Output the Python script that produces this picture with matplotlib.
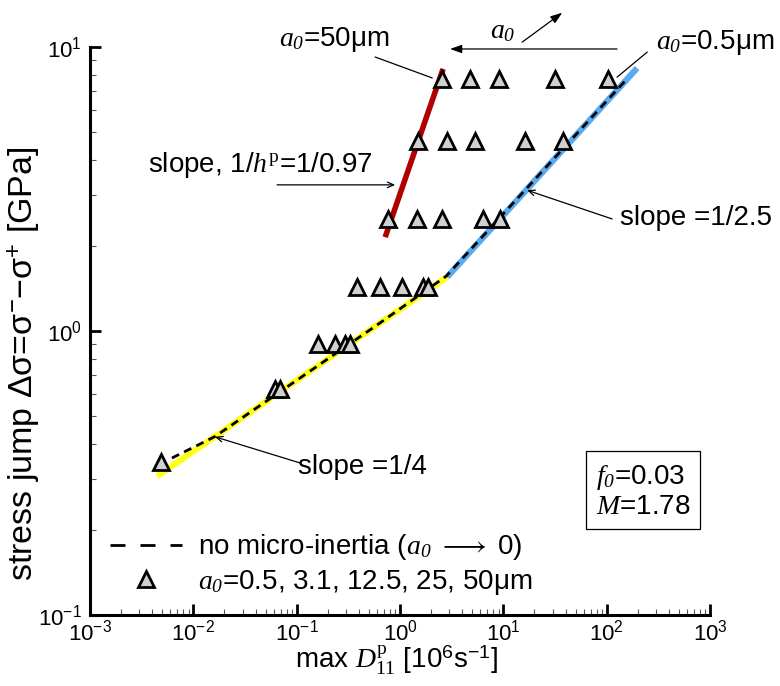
import matplotlib
matplotlib.use('Agg')
import matplotlib.pyplot as plt
from matplotlib.lines import Line2D

plt.rcParams['font.family'] = 'Liberation Sans'
plt.rcParams['mathtext.fontset'] = 'custom'
plt.rcParams['mathtext.rm'] = 'Liberation Sans'
plt.rcParams['mathtext.it'] = 'Liberation Serif:italic'
plt.rcParams['mathtext.sf'] = 'Liberation Serif:italic'
plt.rcParams['mathtext.cal'] = 'Liberation Serif'
plt.rcParams['axes.unicode_minus'] = False

# simulated stress jumps (a0 = 0.5 ... 50 um), one row per loading level
row_stress = [7.71, 4.67, 2.48, 1.43, 0.90, 0.625, 0.346]
row_rates = [
    [2.56, 4.78, 9.10, 31.7, 104],
    [1.50, 2.86, 5.33, 16.3, 37.9],
    [0.767, 1.47, 2.56, 6.37, 9.3],
    [0.385, 0.641, 1.05, 1.68, 1.87],
    [0.161, 0.236, 0.295, 0.329],
    [0.0618, 0.069],
    [0.00486],
]

# no micro-inertia curve
ref_rate = [0.0062, 0.0162, 0.6, 2.8, 151]
ref_stress = [0.357, 0.425, 1.05, 1.56, 7.6]

# fitted slopes
fit_low_rate = [0.00446, 2.86]
fit_low_stress = [0.308, 1.55]
fit_high_rate = [2.86, 197]
fit_high_stress = [1.55, 8.43]
fit_hp_rate = [0.718, 2.61]
fit_hp_stress = [2.14, 8.37]

fig = plt.figure(figsize=(7.8, 6.86), dpi=100)
ax = fig.add_axes([0.1154, 0.1035, 0.7949, 0.828])

ax.plot(fit_low_rate, fit_low_stress, color='#ffff1a', lw=4.5, solid_capstyle='butt', zorder=2)
ax.plot(fit_high_rate, fit_high_stress, color='#5aaaf0', lw=4.5, solid_capstyle='butt', zorder=2)
ax.plot(fit_hp_rate, fit_hp_stress, color='#b00000', lw=4, solid_capstyle='butt', zorder=2)
ax.plot(ref_rate, ref_stress, color='k', lw=2, dashes=(2.9, 2.0), zorder=3)

for s, rates in zip(row_stress, row_rates):
    ax.plot(rates, [s] * len(rates), ls='none', marker='^', ms=12, mfc='#d0d0d0',
            mec='k', mew=2, zorder=4)

ax.set_xscale('log')
ax.set_yscale('log')
ax.set_xlim(1e-3, 1e3)
ax.set_ylim(1e-1, 1e1)

for side in ['top', 'right']:
    ax.spines[side].set_visible(False)
for side in ['left', 'bottom']:
    ax.spines[side].set_linewidth(2.2)

ax.tick_params(which='major', direction='in', length=8, width=2, labelsize=16)
ax.tick_params(axis='x', which='major', pad=3)
ax.tick_params(axis='y', which='major', pad=6)
ax.tick_params(which='minor', direction='in', length=4.5, width=0.8, color='0.35')

ax.set_xlabel(r'max $\mathit{D}_{\mathcal{11}}^{\mathcal{p}}$ [10$^{6}$s$^{-1}$]', fontsize=20)
ax.set_ylabel(r'stress jump $\mathrm{\Delta\sigma}$=$\mathrm{\sigma}^{-}$' + '\u2212'
              + r'$\mathrm{\sigma}^{+}$ [GPa]', fontsize=24.5)
ax.xaxis.set_label_coords(0.495, -0.05)
ax.yaxis.set_label_coords(-0.077, 0.442)

a0 = r'$\mathit{a}_{\mathsf{0}}$'
arrow_open = dict(arrowstyle='->,head_length=0.45,head_width=0.2', lw=0.9, color='k',
                  shrinkA=0, shrinkB=0)
arrow_plain = dict(arrowstyle='-', lw=0.9, color='k', shrinkA=0, shrinkB=0)
arrow_fill = dict(arrowstyle='-|>,head_length=0.7,head_width=0.25', lw=0.9, color='k',
                  shrinkA=0, shrinkB=0)

ax.annotate('', xy=(2.05, 7.78), xytext=(0.574, 9.22), arrowprops=arrow_plain)
ax.text(0.23, 10.6, a0 + '=50μm', fontsize=20, ha='center', va='center', clip_on=False)
ax.annotate('', xy=(126, 7.83), xytext=(247, 9.6), arrowprops=arrow_plain)
ax.text(1122, 10.4, a0 + '=0.5μm', fontsize=20, ha='center', va='center', clip_on=False)
ax.annotate('', xy=(3.05, 9.84), xytext=(126, 9.84), arrowprops=arrow_fill)
ax.annotate('', xy=(37.1, 13.2), xytext=(15.2, 10.4), arrowprops=arrow_fill,
            annotation_clip=False)
ax.text(9.96, 11.4, a0, fontsize=20, ha='center', va='center', clip_on=False)

ax.annotate('', xy=(0.897, 3.27), xytext=(0.0646, 3.27), arrowprops=arrow_open)
ax.text(0.0443, 3.85, r'slope, 1/$\mathit{h}^{\mathcal{p}}$=1/0.97', fontsize=20,
        ha='center', va='center')
ax.annotate('', xy=(17.0, 3.13), xytext=(113, 2.48), arrowprops=arrow_open)
ax.text(135, 2.49, 'slope =1/2.5', fontsize=20, ha='left', va='center', clip_on=False)
ax.annotate('', xy=(0.0162, 0.424), xytext=(0.108, 0.343), arrowprops=arrow_open)
ax.text(0.103, 0.332, 'slope =1/4', fontsize=20, ha='left', va='center')

ax.text(225, 0.273, r'$\mathit{f}_{\mathsf{0}}$=0.03' + '\n' + r'$\mathit{M}$=1.78', fontsize=20,
        ha='center', va='center', multialignment='left', linespacing=1.1,
        bbox=dict(boxstyle='square,pad=0.35', fc='white', ec='k', lw=0.9))

dash_handle = Line2D([], [], color='k', lw=2, dashes=(5.4, 5.4))
tri_handle = Line2D([], [], ls='none', marker='^', ms=12, mfc='#d0d0d0', mec='k', mew=2)
ax.legend([dash_handle, tri_handle],
          [r'no micro-inertia (' + a0 + r' $\longrightarrow$ 0)', a0 + '=0.5, 3.1, 12.5, 25, 50μm'],
          loc='lower left', bbox_to_anchor=(0.032, 0.032), frameon=False, fontsize=20,
          handlelength=2.6, handletextpad=0.58, labelspacing=0.2, borderpad=0,
          borderaxespad=0)

fig.savefig('out.png', dpi=100)
